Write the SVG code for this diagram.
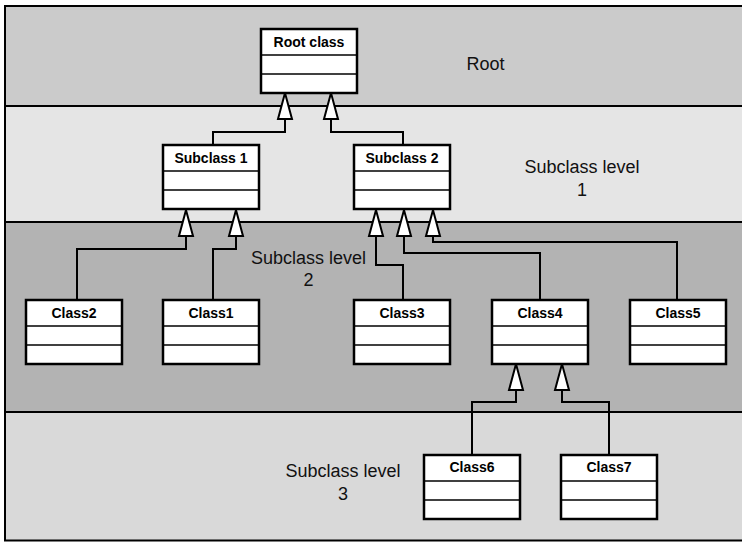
<svg xmlns="http://www.w3.org/2000/svg" width="742" height="542" viewBox="0 0 742 542">
  <style>
    .band { stroke: #000; stroke-width: 2; }
    .box { fill: #fff; stroke: #000; stroke-width: 2.5; }
    .div { stroke: #000; stroke-width: 1.3; }
    .name { font-family: "Liberation Sans", Arial, sans-serif; font-size: 14px; font-weight: bold; text-anchor: middle; fill: #000; }
    .lvl { font-family: "Liberation Sans", Arial, sans-serif; font-size: 18px; text-anchor: middle; fill: #111; }
    .conn { fill: none; stroke: #000; stroke-width: 2; marker-end: url(#gen); }
  </style>
  <defs>
    <!-- hollow generalization arrowhead, tip at the path end -->
    <marker id="gen" markerUnits="userSpaceOnUse" viewBox="-29 -9 31 18" refX="0" refY="0" markerWidth="31" markerHeight="18" orient="auto" overflow="visible">
      <path d="M0,0 L-26,-7 L-26,7 Z" fill="#fff" stroke="#000" stroke-width="2" stroke-linejoin="miter"/>
    </marker>
    <!-- class box: name compartment + two empty compartments -->
    <g id="cls">
      <rect class="box" x="0" y="0" width="96" height="64"/>
      <line class="div" x1="0" y1="26" x2="96" y2="26"/>
      <line class="div" x1="0" y1="45" x2="96" y2="45"/>
    </g>
  </defs>

  <!-- level bands -->
  <g id="bands">
    <rect x="5" y="6" width="740" height="100" fill="#cbcbcb"/>
    <rect x="5" y="106" width="740" height="116" fill="#e5e5e5"/>
    <rect x="5" y="222" width="740" height="190" fill="#b3b3b3"/>
    <rect x="5" y="412" width="740" height="128.5" fill="#d9d9d9"/>
    <line class="band" x1="5" y1="106" x2="745" y2="106"/>
    <line class="band" x1="5" y1="222" x2="745" y2="222"/>
    <line class="band" x1="5" y1="412" x2="745" y2="412"/>
    <rect x="5" y="6" width="740" height="534.5" fill="none" stroke="#000" stroke-width="2"/>
  </g>

  <!-- level labels -->
  <g id="labels">
    <text class="lvl" x="485.5" y="70">Root</text>
    <text class="lvl" x="582" y="173">Subclass level</text>
    <text class="lvl" x="582" y="196">1</text>
    <text class="lvl" x="308.5" y="264">Subclass level</text>
    <text class="lvl" x="308.5" y="286">2</text>
    <text class="lvl" x="343" y="477">Subclass level</text>
    <text class="lvl" x="343" y="500">3</text>
  </g>

  <!-- generalization connectors -->
  <g id="connectors">
    <path class="conn" d="M213,145 V132 H285 V93"/>
    <path class="conn" d="M403,145 V132 H331 V93"/>
    <path class="conn" d="M77,300 V249 H186 V210"/>
    <path class="conn" d="M213,300 V249 H236 V210"/>
    <path class="conn" d="M403,300 V265 H376 V210"/>
    <path class="conn" d="M540,300 V253 H404 V210"/>
    <path class="conn" d="M677,300 V242 H433 V210"/>
    <path class="conn" d="M472,455 V402 H516 V364"/>
    <path class="conn" d="M609,455 V402 H562 V364"/>
  </g>

  <!-- classes -->
  <g id="root-class"><use href="#cls" x="261" y="29"/><text class="name" x="309" y="47">Root class</text></g>
  <g id="subclass-1"><use href="#cls" x="163" y="145"/><text class="name" x="211" y="163">Subclass 1</text></g>
  <g id="subclass-2"><use href="#cls" x="354" y="145"/><text class="name" x="402" y="163">Subclass 2</text></g>
  <g id="class2"><use href="#cls" x="26" y="300"/><text class="name" x="74" y="318">Class2</text></g>
  <g id="class1"><use href="#cls" x="163" y="300"/><text class="name" x="211" y="318">Class1</text></g>
  <g id="class3"><use href="#cls" x="354" y="300"/><text class="name" x="402" y="318">Class3</text></g>
  <g id="class4"><use href="#cls" x="492" y="300"/><text class="name" x="540" y="318">Class4</text></g>
  <g id="class5"><use href="#cls" x="630" y="300"/><text class="name" x="678" y="318">Class5</text></g>
  <g id="class6"><use href="#cls" x="424" y="455"/><text class="name" x="472" y="472">Class6</text></g>
  <g id="class7"><use href="#cls" x="561" y="455"/><text class="name" x="609" y="472">Class7</text></g>
</svg>
